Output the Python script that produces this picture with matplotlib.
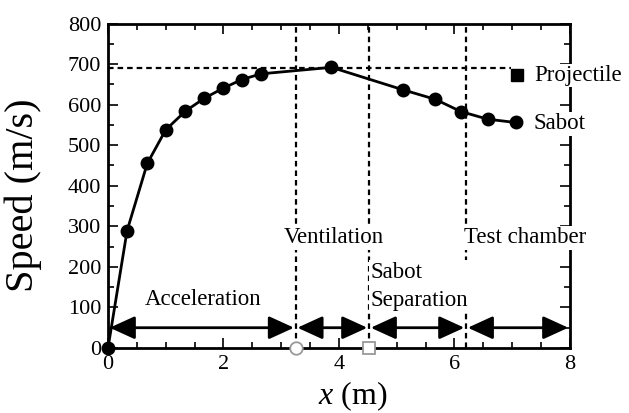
import matplotlib
matplotlib.use("Agg")
import matplotlib.pyplot as plt
from matplotlib import font_manager as fm
from matplotlib.ticker import MultipleLocator

available = set(f.name for f in fm.fontManager.ttflist)
serif = 'DejaVu Serif'
for cand in ['Liberation Serif', 'Tinos', 'Times New Roman', 'TeX Gyre Termes', 'STIXGeneral']:
    if cand in available:
        serif = cand
        break
plt.rcParams['font.family'] = [serif, 'DejaVu Serif']
plt.rcParams['mathtext.fontset'] = 'custom'
plt.rcParams['mathtext.it'] = serif + ':italic'
plt.rcParams['mathtext.rm'] = serif

# Sabot speed data
x_sabot = [0.0, 0.33, 0.68, 1.0, 1.34, 1.67, 2.0, 2.32, 2.65, 3.87, 5.10, 5.67, 6.11, 6.58, 7.06]
v_sabot = [0, 289, 455, 538, 584, 616, 641, 662, 676, 692, 637, 613, 583, 564, 556]

# Projectile
x_proj = [7.08]
v_proj = [673]
proj_level = 690

# Section boundaries
boundaries = [0.0, 3.25, 4.52, 6.2, 8.0]
section_labels = ["Acceleration", "Ventilation", "Sabot\nSeparation", "Test chamber"]

fig = plt.figure(figsize=(6.29, 4.13), dpi=100)
ax = fig.add_axes([0.1717, 0.1574, 0.7345, 0.7856])

ax.set_xlim(0, 8)
ax.set_ylim(0, 800)

dash = (0, (2.5, 1.8))
# dashed reference lines
ax.plot([0, 6.97], [proj_level, proj_level], ls=dash, color='black', lw=1.6, zorder=2)
for b in boundaries[1:4]:
    ax.plot([b, b], [0, 800], ls=dash, color='black', lw=1.6, zorder=2)

# sabot curve
ax.plot(x_sabot, v_sabot, '-o', color='black', lw=2.0, ms=9, zorder=5, clip_on=False)
# projectile
ax.plot(x_proj, v_proj, 's', color='black', ms=8, zorder=5)

# markers on x axis
ax.plot([boundaries[1]], [0], 'o', mfc='white', mec='#999999', ms=9, mew=1.3, clip_on=False, zorder=6)
ax.plot([boundaries[2]], [0], 's', mfc='white', mec='#999999', ms=9, mew=1.3, clip_on=False, zorder=6)

# arrows
for a, b in zip(boundaries[:-1], boundaries[1:]):
    ax.annotate('', xy=(b - 0.03, 50), xytext=(a + 0.03, 50),
                arrowprops=dict(arrowstyle='<|-|>,head_length=0.7,head_width=0.32',
                                color='black', lw=2.0,
                                mutation_scale=22, shrinkA=0, shrinkB=0), zorder=4)

fs = 16.5
bb = dict(facecolor='white', edgecolor='none', pad=1)
ax.text(1.645, 120, section_labels[0], ha='center', va='center', fontsize=fs, bbox=bb, zorder=7)
ax.text(3.91, 272, section_labels[1], ha='center', va='center', fontsize=fs, bbox=bb, zorder=7)
ax.text(4.54, 152, section_labels[2], ha='left', va='center', fontsize=fs, bbox=bb, zorder=7,
        linespacing=1.45)
ax.text(7.22, 272, section_labels[3], ha='center', va='center', fontsize=fs, bbox=bb, zorder=7,
        clip_on=False)
ax.text(7.38, 672, "Projectile", ha='left', va='center', fontsize=fs, bbox=bb, zorder=7, clip_on=False)
ax.text(7.36, 553, "Sabot", ha='left', va='center', fontsize=fs, bbox=bb, zorder=7, clip_on=False)

ax.xaxis.set_major_locator(MultipleLocator(2))
ax.xaxis.set_minor_locator(MultipleLocator(0.5))
ax.yaxis.set_major_locator(MultipleLocator(100))
ax.yaxis.set_minor_locator(MultipleLocator(50))
ax.tick_params(which='both', direction='in', top=True, right=True, labelsize=16, width=1.2)
ax.tick_params(which='major', length=7, pad=5)
ax.tick_params(which='minor', length=4)
for s in ax.spines.values():
    s.set_linewidth(2.0)
    s.set_zorder(3)

ax.set_ylabel("Speed (m/s)", fontsize=29)
ax.yaxis.set_label_coords(-0.143, 0.472)
ax.set_xlabel(r"$x$ (m)", fontsize=23)
ax.xaxis.set_label_coords(0.53, -0.097)

fig.savefig("out.png", dpi=100)
